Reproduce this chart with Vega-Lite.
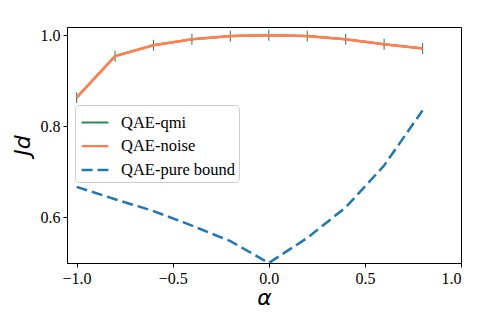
{
  "$schema": "https://vega.github.io/schema/vega-lite/v6.json",
  "autosize": "none",
  "width": 394,
  "height": 236,
  "padding": {"left": 67, "top": 27, "right": 19, "bottom": 57},
  "background": "white",
  "config": {
    "view": {"stroke": "black", "strokeWidth": 1},
    "axis": {
      "labelFont": "Liberation Serif",
      "labelFontSize": 16,
      "labelColor": "black",
      "domainColor": "black",
      "tickColor": "black",
      "tickSize": 4,
      "labelPadding": 3,
      "grid": false,
      "titleColor": "black",
      "titleFont": "DejaVu Sans",
      "titleFontStyle": "italic",
      "titleFontWeight": "normal",
      "titleFontSize": 22
    },
    "legend": {
      "orient": "none",
      "legendX": 8,
      "legendY": 78,
      "padding": 3,
      "strokeColor": "#cccccc",
      "fillColor": "white",
      "cornerRadius": 4,
      "labelFont": "Liberation Serif",
      "labelFontSize": 16.5,
      "labelColor": "black",
      "labelLimit": 0,
      "labelOffset": 11,
      "symbolType": "stroke",
      "symbolSize": 720,
      "symbolStrokeWidth": 2.5,
      "symbolOffset": 2,
      "rowPadding": 0
    }
  },
  "data": {
    "values": [
      {"alpha": -1.0, "value": 0.863, "series": "QAE-qmi"},
      {"alpha": -0.8, "value": 0.954, "series": "QAE-qmi"},
      {"alpha": -0.6, "value": 0.978, "series": "QAE-qmi"},
      {"alpha": -0.4, "value": 0.991, "series": "QAE-qmi"},
      {"alpha": -0.2, "value": 0.998, "series": "QAE-qmi"},
      {"alpha": 0.0, "value": 1.0, "series": "QAE-qmi"},
      {"alpha": 0.2, "value": 0.998, "series": "QAE-qmi"},
      {"alpha": 0.4, "value": 0.991, "series": "QAE-qmi"},
      {"alpha": 0.6, "value": 0.980, "series": "QAE-qmi"},
      {"alpha": 0.8, "value": 0.971, "series": "QAE-qmi"},
      {"alpha": -1.0, "value": 0.863, "series": "QAE-noise"},
      {"alpha": -0.8, "value": 0.954, "series": "QAE-noise"},
      {"alpha": -0.6, "value": 0.978, "series": "QAE-noise"},
      {"alpha": -0.4, "value": 0.991, "series": "QAE-noise"},
      {"alpha": -0.2, "value": 0.998, "series": "QAE-noise"},
      {"alpha": 0.0, "value": 1.0, "series": "QAE-noise"},
      {"alpha": 0.2, "value": 0.998, "series": "QAE-noise"},
      {"alpha": 0.4, "value": 0.991, "series": "QAE-noise"},
      {"alpha": 0.6, "value": 0.980, "series": "QAE-noise"},
      {"alpha": 0.8, "value": 0.971, "series": "QAE-noise"},
      {"alpha": -1.0, "value": 0.667, "series": "QAE-pure bound"},
      {"alpha": -0.8, "value": 0.640, "series": "QAE-pure bound"},
      {"alpha": -0.6, "value": 0.614, "series": "QAE-pure bound"},
      {"alpha": -0.4, "value": 0.582, "series": "QAE-pure bound"},
      {"alpha": -0.2, "value": 0.548, "series": "QAE-pure bound"},
      {"alpha": 0.0, "value": 0.5, "series": "QAE-pure bound"},
      {"alpha": 0.2, "value": 0.555, "series": "QAE-pure bound"},
      {"alpha": 0.4, "value": 0.622, "series": "QAE-pure bound"},
      {"alpha": 0.6, "value": 0.714, "series": "QAE-pure bound"},
      {"alpha": 0.8, "value": 0.835, "series": "QAE-pure bound"}
    ]
  },
  "encoding": {
    "x": {
      "field": "alpha",
      "type": "quantitative",
      "scale": {"domain": [-1.05, 1.0], "nice": false, "zero": false},
      "axis": {
        "values": [-1, -0.5, 0, 0.5, 1],
        "labelExpr": "replace(format(datum.value, '.1f'), '-', '\u2212')",
        "title": "α",
        "titlePadding": 1
      }
    },
    "y": {
      "field": "value",
      "type": "quantitative",
      "scale": {"domain": [0.5, 1.018], "nice": false, "zero": false},
      "axis": {
        "values": [0.6, 0.8, 1.0],
        "format": ".1f",
        "title": "Jd",
        "titlePadding": 6
      }
    }
  },
  "layer": [
    {
      "mark": {"type": "line", "clip": true},
      "encoding": {
        "color": {
          "field": "series",
          "type": "nominal",
          "scale": {
            "domain": ["QAE-qmi", "QAE-noise", "QAE-pure bound"],
            "range": ["#2e8b57", "#ff7f50", "#1f77b4"]
          },
          "legend": {"title": null}
        },
        "strokeDash": {
          "field": "series",
          "type": "nominal",
          "scale": {
            "domain": ["QAE-qmi", "QAE-noise", "QAE-pure bound"],
            "range": [[1, 0], [1, 0], [11, 5]]
          },
          "legend": {"title": null}
        },
        "strokeWidth": {
          "field": "series",
          "type": "nominal",
          "scale": {
            "domain": ["QAE-qmi", "QAE-noise", "QAE-pure bound"],
            "range": [2, 2.5, 3.3]
          },
          "legend": null
        }
      }
    },
    {
      "transform": [{"filter": "datum.series === 'QAE-qmi'"}],
      "mark": {
        "type": "point",
        "shape": "M0,-1V1",
        "filled": false,
        "size": 120,
        "strokeWidth": 1.1,
        "color": "#2e8b57",
        "opacity": 1
      }
    },
    {
      "transform": [{"filter": "datum.series === 'QAE-noise'"}],
      "mark": {"type": "line", "color": "#ff7f50", "strokeWidth": 2.5}
    }
  ]
}
